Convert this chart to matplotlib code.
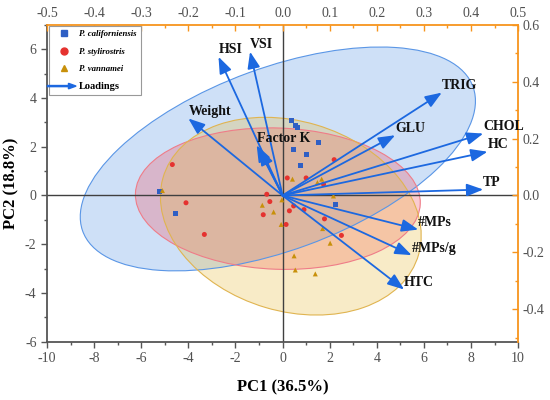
import matplotlib.pyplot as plt
import numpy as np
from matplotlib.patches import Ellipse, FancyArrow
from matplotlib.lines import Line2D
from matplotlib.legend_handler import HandlerPatch
from matplotlib.ticker import MultipleLocator

plt.rcParams['font.family'] = ['Liberation Serif', 'DejaVu Serif']
plt.rcParams['axes.unicode_minus'] = False

# scores (PC1, PC2) per species
species = ['P. californiensis', 'P. stylirostris', 'P. vannamei']
calif_pc1 = [0.36, 0.56, 0.65, 1.54, 0.46, 1.00, 0.77, 2.25, -5.23, -4.56]
calif_pc2 = [3.08, 2.89, 2.78, 2.18, 1.88, 1.69, 1.23, -0.36, 0.15, -0.76]
styli_pc1 = [-4.68, -4.10, -3.32, -0.67, -0.67, -0.54, -0.82, 2.19, 0.20,
             1.00, 1.74, 0.47, 0.29, 0.91, 0.15, 1.78, 2.50]
styli_pc2 = [1.27, -0.30, -1.60, 1.34, 0.05, -0.25, -0.79, 1.47, 0.72,
             0.72, 0.46, -0.43, -0.63, -0.58, -1.19, -0.96, -1.64]
vanna_pc1 = [-5.10, -0.86, -0.38, -0.03, -0.06, 0.42, 1.48, 1.66, 2.16,
             1.70, 2.02, 0.49, 0.54, 1.39]
vanna_pc2 = [0.20, -0.40, -0.68, -0.18, -1.19, 0.67, 0.53, 0.67, -0.02,
             -1.36, -1.96, -2.48, -3.06, -3.22]

# confidence ellipses (centre, full width, full height, angle in degrees)
ell_cx = [-0.2, -0.2, 0.35]
ell_cy = [1.5, -0.13, -0.85]
ell_w = [17.6, 12.1, 11.3]
ell_h = [7.5, 5.8, 7.8]
ell_ang = [19.5, -2.0, -16.0]

# variable loadings (one unlabeled vector sits under Factor K)
variables = ['HSI', 'VSI', 'Weight', 'Factor K', '', 'TRIG', 'GLU', 'CHOL', 'HC',
             'TP', '#MPs', '#MPs/g', 'HTC']
load_pc1 = [-0.136, -0.069, -0.200, -0.055, -0.049, 0.338, 0.239, 0.426, 0.435,
            0.426, 0.288, 0.274, 0.258]
load_pc2 = [0.488, 0.506, 0.271, 0.177, 0.165, 0.362, 0.212, 0.218, 0.154,
            0.021, -0.120, -0.210, -0.331]

mk_col = ['#2f5fc4', '#e5322f', '#c8900a']
fill_col = ['#3d85e0', '#f06070', '#e8b830']
edge_col = ['#5a96e6', '#ef7c88', '#e0b450']
fill_alpha = [0.25, 0.32, 0.27]
markers = ['s', 'o', '^']
arrow_col = '#1c68e0'
orange = '#f7941d'
tick_col = '#505050'

fig = plt.figure(figsize=(5.5, 4), dpi=100)
ax = fig.add_axes([0.0855, 0.146, 0.8565, 0.7915])

for i in range(3):
    ax.add_patch(Ellipse((ell_cx[i], ell_cy[i]), ell_w[i], ell_h[i], angle=ell_ang[i],
                         facecolor=fill_col[i], alpha=fill_alpha[i], edgecolor='none', zorder=1))
    ax.add_patch(Ellipse((ell_cx[i], ell_cy[i]), ell_w[i], ell_h[i], angle=ell_ang[i],
                         facecolor='none', edgecolor=edge_col[i], lw=0.8, zorder=1.5))

ax.axhline(0, color='#404040', lw=1.0, zorder=2)
ax.axvline(0, color='#404040', lw=1.0, zorder=2)

scores = [(calif_pc1, calif_pc2), (styli_pc1, styli_pc2), (vanna_pc1, vanna_pc2)]
for i, (px, py) in enumerate(scores):
    ax.scatter(px, py, marker=markers[i], s=13, color=mk_col[i], edgecolors='none', zorder=3)

ax.set_xlim(-10, 10)
ax.set_ylim(-6, 7)
ax.xaxis.set_major_locator(MultipleLocator(2))
ax.xaxis.set_minor_locator(MultipleLocator(1))
ax.yaxis.set_major_locator(MultipleLocator(2))
ax.yaxis.set_minor_locator(MultipleLocator(1))
ax.spines['top'].set_visible(False)
ax.spines['right'].set_visible(False)
for s in ['left', 'bottom']:
    ax.spines[s].set_color('#555555')
    ax.spines[s].set_linewidth(1.3)
ax.tick_params(which='both', direction='out', colors='#555555', labelcolor=tick_col,
               labelsize=10, width=1.0)
ax.tick_params(which='major', length=4)
ax.tick_params(which='minor', length=2.5)
ax.set_xlabel('PC1 (36.5%)', fontsize=12, fontweight='bold', labelpad=10)
ax.set_ylabel('PC2 (18.8%)', fontsize=12, fontweight='bold', labelpad=4)

# loadings axes (top / right)
ax2 = fig.add_axes(ax.get_position(), facecolor='none')
ax2.set_xlim(-0.5, 0.5)
ax2.set_ylim(-6 / 7 * 0.6, 0.6)
ax2.xaxis.tick_top()
ax2.yaxis.tick_right()
ax2.spines['left'].set_visible(False)
ax2.spines['bottom'].set_visible(False)
for s in ['top', 'right']:
    ax2.spines[s].set_color(orange)
    ax2.spines[s].set_linewidth(1.3)
ax2.xaxis.set_major_locator(MultipleLocator(0.1))
ax2.xaxis.set_minor_locator(MultipleLocator(0.05))
ax2.yaxis.set_major_locator(MultipleLocator(0.2))
ax2.yaxis.set_minor_locator(MultipleLocator(0.1))
ax2.tick_params(which='both', direction='in', colors=orange, labelcolor=tick_col,
                labelsize=10, width=1.0)
ax2.tick_params(which='major', length=4)
ax2.tick_params(which='minor', length=2.5)
fmt = plt.FuncFormatter(lambda v, p: '%.1f' % v if abs(v) > 1e-9 else '0.0')
ax2.xaxis.set_major_formatter(fmt)
ax2.yaxis.set_major_formatter(fmt)

for name, lx, ly in zip(variables, load_pc1, load_pc2):
    ax2.annotate('', xy=(lx, ly), xytext=(0, 0),
                 arrowprops=dict(arrowstyle='-|>,head_length=1.0,head_width=0.38',
                                 color=arrow_col, lw=1.3, shrinkA=0, shrinkB=0))
    if name:
        ax2.annotate(name, xy=(lx, ly), xytext=(0, 5), textcoords='offset points',
                     ha='left', va='center', fontsize=10, fontweight='bold', color='#111111')


def make_arrow(legend, orig_handle, xdescent, ydescent, width, height, fontsize):
    return FancyArrow(-4, height / 2, width + 5, 0, length_includes_head=True,
                      width=0.8, head_width=height * 0.9, head_length=width * 0.35,
                      color=arrow_col)


handles = [Line2D([], [], ls='none', marker=markers[i], color=mk_col[i], markersize=5)
           for i in range(3)]
handles.append(FancyArrow(0, 0, 1, 0, color=arrow_col))
leg = ax2.legend(handles, species + ['Loadings'], loc='upper left',
                 bbox_to_anchor=(0.004, 0.996), fontsize=6.3, frameon=True,
                 fancybox=False, edgecolor='#999999', framealpha=1,
                 handlelength=2.5, handletextpad=0.5, labelspacing=1.05,
                 borderpad=0.45, borderaxespad=0,
                 handler_map={FancyArrow: HandlerPatch(patch_func=make_arrow)})
leg.get_frame().set_linewidth(0.8)
for t in leg.get_texts()[:3]:
    t.set_fontstyle('italic')
    t.set_fontweight('bold')
leg.get_texts()[3].set_fontweight('bold')
leg.get_texts()[3].set_fontsize(7.5)

fig.savefig('out.png', dpi=100)
